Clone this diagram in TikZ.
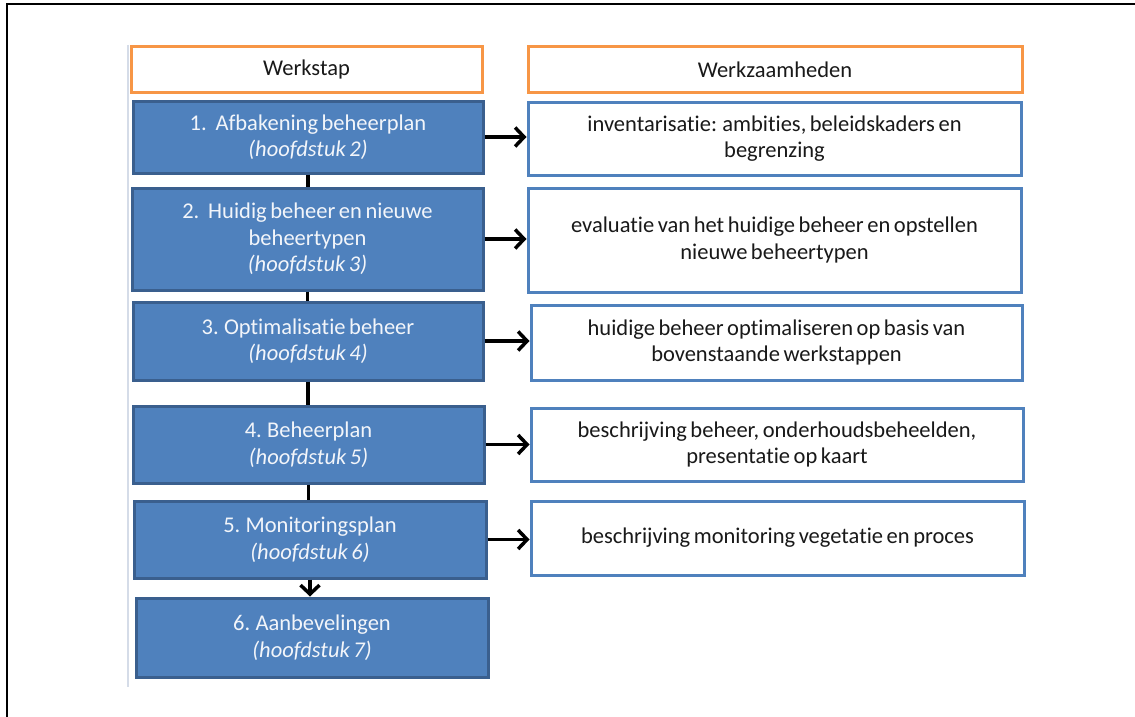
\documentclass[tikz,border=0pt]{standalone}
\usepackage{fontspec}
\setmainfont{Carlito}[Ligatures=NoCommon, WordSpace=0.7]
\usetikzlibrary{arrows.meta}
\definecolor{bfill}{HTML}{4F81BD}
\definecolor{bdark}{HTML}{3A5F8E}
\definecolor{orng}{HTML}{F79646}
\definecolor{txtw}{HTML}{F2F5FA}
\definecolor{gline}{HTML}{D5DCE8}
\begin{document}
\begin{tikzpicture}[x=1pt,y=-1pt,
  base/.style={rectangle, line width=3pt, align=center, inner sep=0pt,
    font=\fontsize{22.5}{26.5}\selectfont},
  lbox/.style={base, fill=bfill, draw=bdark, text=txtw},
  rbox/.style={base, fill=white, draw=bfill, text=black!90},
  hbox/.style={base, fill=white, draw=orng, text=black!90},
  conn/.style={line width=3.5pt},
  arr/.style={line width=3.5pt, -{Straight Barb[length=9pt,width=19pt,line width=3.5pt]}}]
\useasboundingbox (0,0) rectangle (1135,717);
\draw[line width=1.5pt] (7,717) -- (7,4) -- (1135,4);
\draw[gline, line width=1.5pt] (128,45) -- (128,687);
\node[hbox, minimum width=351, minimum height=45] (HL) at (306.5,69.5) {Werkstap};
\node[hbox, minimum width=494, minimum height=45] (HR) at (775,69.5) {Werkzaamheden};
\node[lbox, minimum width=350, minimum height=72] (L1) at (308,137) {1.~ Afbakening beheerplan\\\textit{(hoofdstuk 2)}};
\node[rbox, minimum width=493, minimum height=73] (R1) at (774.5,138.5) {inventarisatie: ambities, beleidskaders en\\begrenzing};
\node[lbox, minimum width=351, minimum height=102] (L2) at (307.5,239) {2.~ Huidig beheer en nieuwe\\beheertypen\\\textit{(hoofdstuk 3)}};
\node[rbox, minimum width=493, minimum height=104] (R2) at (774.5,240) {evaluatie van het huidige beheer en opstellen\\nieuwe beheertypen};
\node[lbox, minimum width=350, minimum height=78] (L3) at (308,341) {3. Optimalisatie beheer\\\textit{(hoofdstuk 4)}};
\node[rbox, minimum width=491, minimum height=75] (R3) at (776.5,342.5) {huidige beheer optimaliseren op basis van\\bovenstaande werkstappen};
\node[lbox, minimum width=351, minimum height=77] (L4) at (308.5,444.5) {4. Beheerplan\\\textit{(hoofdstuk 5)}};
\node[rbox, minimum width=492, minimum height=73] (R4) at (777,444.5) {beschrijving beheer, onderhoudsbeheelden,\\presentatie op kaart};
\node[lbox, minimum width=352, minimum height=77] (L5) at (310,539.5) {5. Monitoringsplan\\\textit{(hoofdstuk 6)}};
\node[rbox, minimum width=493, minimum height=74] (R5) at (777.5,538) {beschrijving monitoring vegetatie en proces};
\node[lbox, minimum width=352, minimum height=79] (L6) at (312,637.5) {6. Aanbevelingen\\\textit{(hoofdstuk 7)}};
\draw[conn] (L1.south) -- (L1.south |- L2.north);
\draw[conn] (L2.south) -- (L2.south |- L3.north);
\draw[conn] (L3.south) -- (L3.south |- L4.north);
\draw[conn] (L4.south) -- (L4.south |- L5.north);
\draw[arr] (L5.south) -- (L5.south |- L6.north);
\draw[arr] (L1.east) -- (L1.east -| R1.west);
\draw[arr] (L2.east) -- (L2.east -| R2.west);
\draw[arr] (L3.east) -- (L3.east -| R3.west);
\draw[arr] (L4.east) -- (L4.east -| R4.west);
\draw[arr] (L5.east) -- (L5.east -| R5.west);
\end{tikzpicture}
\end{document}
